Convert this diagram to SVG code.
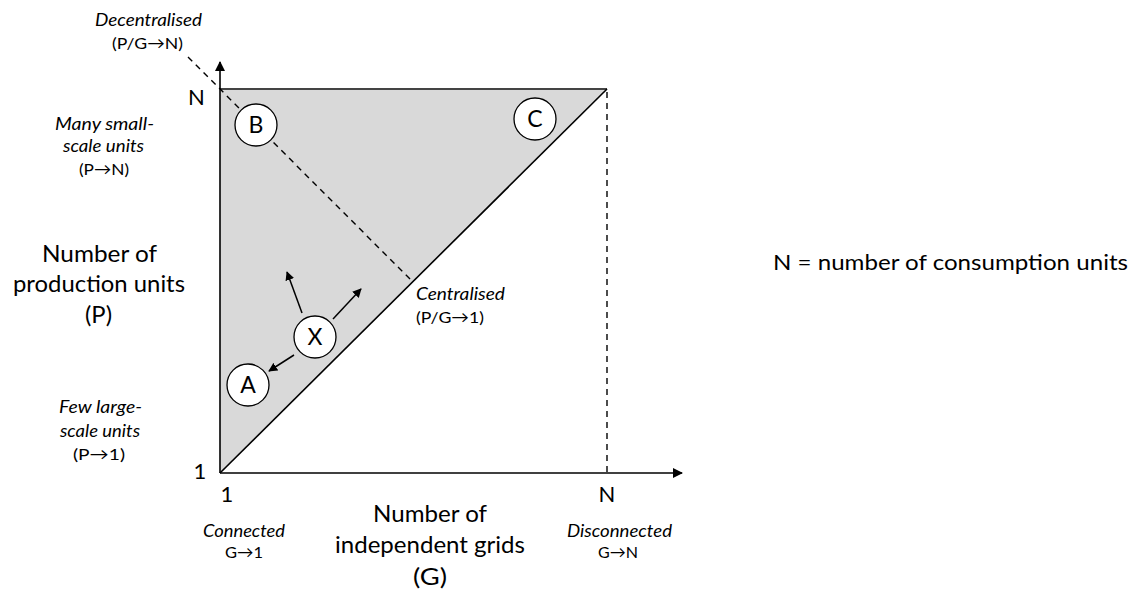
<svg xmlns="http://www.w3.org/2000/svg" width="1135" height="590" viewBox="0 0 1135 590">
<style>
text{font-family:Lato,"Open Sans","Liberation Sans",sans-serif;fill:#000}
.it{font-style:italic;font-size:17px}
.sm{font-size:16px}
.big{font-size:22px}
.lbl{font-size:23px}
.cons{font-size:22px}
.node circle{fill:#fff;stroke:#000;stroke-width:1.3}
.node text{font-size:23px;text-anchor:middle}
.ax{stroke:#000;stroke-width:1.6;fill:none}
.dash{stroke:#000;stroke-width:1.4;stroke-dasharray:6,5;fill:none}
.arr{stroke:#000;stroke-width:1.5;fill:none}
</style>
<defs>
<marker id="ah" viewBox="0 0 10 10" refX="9" refY="5" markerWidth="10" markerHeight="10" markerUnits="userSpaceOnUse" orient="auto">
<path d="M0,0 L10,5 L0,10 z" fill="#000"/>
</marker>
<marker id="ahs" viewBox="0 0 10 10" refX="9" refY="5" markerWidth="9" markerHeight="9" markerUnits="userSpaceOnUse" orient="auto">
<path d="M0,0 L10,5 L0,10 z" fill="#000"/>
</marker>
</defs>
<g id="region">
<polygon points="220,89 607,89 220,473" fill="#d9d9d9" stroke="none"/>
<line x1="220" y1="89" x2="607" y2="89" stroke="#444" stroke-width="1.8"/>
<line x1="220" y1="473" x2="607" y2="89" class="ax" stroke-width="1.4"/>
</g>
<g id="connectors">
<line x1="220" y1="473" x2="220" y2="62" class="ax" marker-end="url(#ah)"/>
<line x1="220" y1="473" x2="682" y2="473" class="ax" marker-end="url(#ah)"/>
<line x1="188" y1="57" x2="412" y2="281" class="dash"/>
<line x1="607" y1="92" x2="607" y2="473" class="dash"/>
<line x1="302" y1="313" x2="287" y2="272" class="arr" marker-end="url(#ahs)"/>
<line x1="333" y1="319" x2="361" y2="289" class="arr" marker-end="url(#ahs)"/>
<line x1="294" y1="355" x2="269" y2="371" class="arr" marker-end="url(#ahs)"/>
</g>
<g id="node-B" class="node"><circle cx="256" cy="125" r="21"/><text x="256" y="133">B</text></g>
<g id="node-C" class="node"><circle cx="535" cy="119" r="21"/><text x="535" y="127">C</text></g>
<g id="node-X" class="node"><circle cx="315" cy="337" r="21"/><text x="315" y="345">X</text></g>
<g id="node-A" class="node"><circle cx="248" cy="385" r="21"/><text x="248" y="393">A</text></g>
<g id="labels">
<text class="it" x="95" y="26" textLength="107" lengthAdjust="spacingAndGlyphs">Decentralised</text>
<text class="sm" x="112" y="49" textLength="71" lengthAdjust="spacingAndGlyphs">(P/G→N)</text>
<text class="big" x="188" y="105">N</text>
<text class="it" x="55" y="130" textLength="99" lengthAdjust="spacingAndGlyphs">Many small-</text>
<text class="it" x="63" y="152" textLength="81" lengthAdjust="spacingAndGlyphs">scale units</text>
<text class="sm" x="79" y="175" textLength="50" lengthAdjust="spacingAndGlyphs">(P→N)</text>
<text class="lbl" x="42" y="262" textLength="115" lengthAdjust="spacingAndGlyphs">Number of</text>
<text class="lbl" x="13" y="292" textLength="172" lengthAdjust="spacingAndGlyphs">production units</text>
<text class="lbl" x="85" y="323" textLength="27" lengthAdjust="spacingAndGlyphs">(P)</text>
<text class="it" x="59" y="413" textLength="83" lengthAdjust="spacingAndGlyphs">Few large-</text>
<text class="it" x="60" y="437" textLength="80" lengthAdjust="spacingAndGlyphs">scale units</text>
<text class="sm" x="73" y="460" textLength="52" lengthAdjust="spacingAndGlyphs">(P→1)</text>
<text class="big" x="200" y="479" text-anchor="middle">1</text>
<text class="big" x="227" y="502" text-anchor="middle">1</text>
<text class="big" x="607" y="502" text-anchor="middle">N</text>
<text class="it" x="416" y="300" textLength="89" lengthAdjust="spacingAndGlyphs">Centralised</text>
<text class="sm" x="416" y="323" textLength="68" lengthAdjust="spacingAndGlyphs">(P/G→1)</text>
<text class="it" x="203" y="537" textLength="82" lengthAdjust="spacingAndGlyphs">Connected</text>
<text class="sm" x="225" y="558" textLength="38" lengthAdjust="spacingAndGlyphs">G→1</text>
<text class="lbl" x="373" y="522" textLength="114" lengthAdjust="spacingAndGlyphs">Number of</text>
<text class="lbl" x="335" y="553" textLength="190" lengthAdjust="spacingAndGlyphs">independent grids</text>
<text class="lbl" x="413" y="585" textLength="34" lengthAdjust="spacingAndGlyphs">(G)</text>
<text class="it" x="567" y="537" textLength="105" lengthAdjust="spacingAndGlyphs">Disconnected</text>
<text class="sm" x="598" y="558" textLength="40" lengthAdjust="spacingAndGlyphs">G→N</text>
<text class="cons" x="773" y="270" textLength="355" lengthAdjust="spacingAndGlyphs">N = number of consumption units</text>
</g>
</svg>
